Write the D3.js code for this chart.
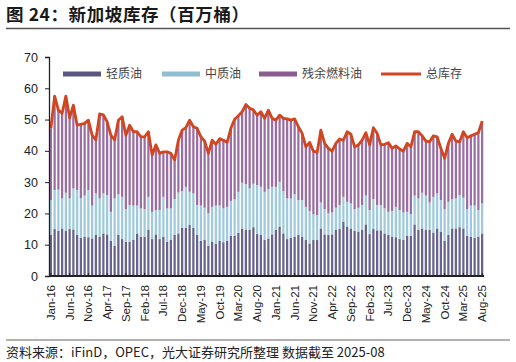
<!DOCTYPE html>
<html>
<head>
<meta charset="utf-8">
<script src="https://cdn.jsdelivr.net/npm/d3@7"></script>
<style>
body { margin: 0; background: #fff; }
svg { display: block; font-family: "Liberation Sans", Arial, sans-serif; }
.cn { font-family: "Noto Sans CJK SC", sans-serif; }
</style>
</head>
<body>
<div class="container"></div>
<script>
// Singapore inventories, million barrels, Jan-16 .. Aug-25
var light = [13.1,15.0,14.5,15.2,14.5,15.0,14.9,13.1,12.2,12.6,12.4,12.0,
  13.1,12.6,13.6,13.3,11.2,9.6,13.1,11.8,11.0,11.0,11.5,13.6,
  12.6,12.6,14.7,11.8,13.3,11.8,12.6,11.0,11.5,13.1,13.6,15.4,
  15.4,16.3,15.4,13.1,11.2,11.5,9.7,11.0,10.4,11.2,10.8,11.2,
  12.9,12.9,13.8,15.2,14.7,14.7,15.6,13.4,13.1,11.5,12.0,13.3,
  14.7,15.8,13.6,11.8,12.2,12.6,13.1,12.6,11.5,10.4,11.5,11.5,
  15.2,13.3,13.1,13.3,14.7,15.0,17.4,15.8,15.2,14.5,14.2,14.7,
  16.5,13.4,15.0,14.6,14.6,13.6,13.1,12.6,12.4,11.8,11.5,12.8,
  12.8,16.5,14.7,15.2,14.7,14.7,13.9,15.2,14.2,11.2,13.1,15.2,
  15.2,15.6,15.2,12.8,12.6,12.2,12.6,13.6];
var middle = [11.2,12.5,13.1,9.6,12.1,9.8,13.1,14.4,12.6,13.1,15.1,10.5,
  13.3,12.2,12.8,12.6,9.3,15.2,13.0,13.5,10.4,11.7,11.0,8.9,
  9.0,8.8,10.6,8.7,7.8,9.3,12.7,10.6,10.1,11.5,13.1,11.7,
  13.1,10.6,11.0,9.6,11.3,10.3,10.3,11.1,12.1,11.3,10.8,10.9,
  11.1,11.6,13.1,14.6,14.7,13.3,13.9,15.7,15.4,15.4,15.8,15.2,
  13.8,14.3,13.5,13.0,12.6,13.5,11.2,11.7,10.6,10.4,8.2,8.0,
  8.3,8.1,6.9,7.0,7.1,7.7,7.9,7.9,8.0,6.9,7.6,8.0,
  9.2,7.7,9.6,8.1,8.1,8.0,7.4,8.2,9.7,9.3,8.8,7.7,
  7.0,9.2,10.1,11.4,11.0,8.8,11.4,11.2,10.1,10.2,10.6,9.4,
  9.6,10.3,9.8,8.6,9.9,10.3,8.5,9.6];
var residue = [22.9,30.0,25.4,27.2,30.9,25.7,26.6,20.7,23.7,23.1,22.3,22.5,
  17.1,27.0,25.1,23.4,24.5,18.7,23.7,25.6,23.6,25.5,23.6,23.6,
  22.9,23.1,20.8,18.2,20.8,18.1,14.4,18.1,17.6,12.5,16.7,19.5,
  18.9,22.9,21.3,24.5,22.0,21.3,19.2,21.3,19.6,21.4,21.8,20.6,
  23.2,25.6,24.3,22.7,25.4,25.6,23.6,22.3,24.0,23.5,25.2,21.9,
  21.3,21.3,23.3,25.4,25.0,24.1,23.4,21.3,19.2,21.9,20.2,20.0,
  23.1,21.0,20.8,19.6,20.6,21.1,18.1,22.4,22.1,19.9,20.1,20.7,
  20.1,20.8,22.8,22.9,19.2,20.5,22.1,20.0,19.5,19.5,19.6,21.9,
  21.5,20.4,21.3,18.2,17.4,19.4,19.5,18.1,16.5,16.2,18.7,20.7,
  18.3,17.0,21.1,22.8,22.3,22.8,24.7,26.3];
var months = ['Jan','Feb','Mar','Apr','May','Jun','Jul','Aug','Sep','Oct','Nov','Dec'];
var yTicks = [0,10,20,30,40,50,60,70];
var seriesNames = ['轻质油','中质油','残余燃料油','总库存'];
var colors = ['#5b5680','#8fbdd1','#8c5b92','#d1451f'];
var barColors = ['#67638c','#9fcadb','#9a6ea2'];

var dates = light.map(function(d, i) {
  return months[i % 12] + '-' + (16 + Math.floor(i / 12));
});
var rows = dates.map(function(d, i) {
  return {date: d, light: light[i], middle: middle[i], residue: residue[i]};
});
var total = rows.map(function(r) { return r.light + r.middle + r.residue; });

var W = 516, H = 362;
var m = {left: 49, right: 32, top: 57, bottom: 86};

var svg = d3.select('.container').append('svg')
  .attr('width', W)
  .attr('height', H);

// title
svg.append('text')
  .attr('class', 'cn')
  .attr('x', 6)
  .attr('y', 21)
  .style('font-size', '17.5px')
  .style('letter-spacing', '0.6px')
  .style('font-weight', 'bold')
  .style('fill', '#1a1a1a')
  .text('图 24：新加坡库存（百万桶）');
svg.append('line')
  .attr('x1', 6).attr('x2', 510)
  .attr('y1', 28.5).attr('y2', 28.5)
  .style('stroke', '#555').style('stroke-width', 1.5);

var x = d3.scaleBand()
  .domain(dates)
  .range([m.left, W - m.right])
  .paddingInner(0.4)
  .paddingOuter(0.2);

var y = d3.scaleLinear()
  .domain([0, 70])
  .range([H - m.bottom, m.top]);

var stack = d3.stack().keys(['light', 'middle', 'residue']);
var layers = stack(rows);

svg.append('g').selectAll('g')
  .data(layers)
  .enter()
  .append('g')
  .style('fill', function(d, i) { return barColors[i]; })
  .selectAll('rect')
  .data(function(d) { return d; })
  .enter()
  .append('rect')
  .attr('x', function(d) { return x(d.data.date); })
  .attr('width', x.bandwidth())
  .attr('y', function(d) { return y(d[1]); })
  .attr('height', function(d) { return y(d[0]) - y(d[1]); });

var line = d3.line()
  .x(function(d, i) { return x(dates[i]) + x.bandwidth() / 2; })
  .y(function(d) { return y(d); });

svg.append('path')
  .datum(total)
  .attr('d', line)
  .style('fill', 'none')
  .style('stroke', colors[3])
  .style('stroke-width', 2.8)
  .style('stroke-linejoin', 'round');

// y axis
var yAxis = d3.axisLeft(y).tickValues(yTicks).tickSize(4).tickPadding(7);
var yG = svg.append('g')
  .attr('transform', 'translate(' + m.left + ',0)')
  .call(yAxis);
yG.select('.domain').style('stroke', '#222').style('stroke-width', 1.3);
yG.selectAll('.tick line').style('stroke', '#222');
yG.selectAll('text').style('font-size', '12.5px').style('fill', '#222');

// x axis
var xAxis = d3.axisBottom(x)
  .tickValues(dates.filter(function(d, i) { return i % 5 === 0; }))
  .tickSize(-3)
  .tickSizeOuter(0)
  .tickPadding(6);
var xG = svg.append('g')
  .attr('transform', 'translate(0,' + (H - m.bottom) + ')')
  .call(xAxis);
xG.select('.domain')
  .attr('d', 'M' + m.left + ',0H' + (W - m.right))
  .style('stroke', '#222').style('stroke-width', 2.2);
xG.selectAll('.tick line').style('stroke', '#222');
xG.selectAll('text')
  .style('font-size', '11.5px')
  .style('fill', '#222')
  .style('text-anchor', 'end')
  .attr('transform', 'rotate(-90)')
  .attr('x', -9)
  .attr('y', 0)
  .attr('dy', '0.35em');

// legend
var legendX = [63, 162, 259, 381];
var leg = svg.append('g');
seriesNames.forEach(function(name, i) {
  var g = leg.append('g').attr('transform', 'translate(' + legendX[i] + ',74)');
  if (i < 3) {
    g.append('rect').attr('x', 0).attr('y', -2.5).attr('width', 38).attr('height', 5)
      .style('fill', colors[i]);
  } else {
    g.append('line').attr('x1', 0).attr('x2', 40).attr('y1', 0).attr('y2', 0)
      .style('stroke', colors[3]).style('stroke-width', 2.8);
  }
  g.append('text')
    .attr('class', 'cn')
    .attr('x', i < 3 ? 43 : 45)
    .attr('y', 0)
    .attr('dy', '0.35em')
    .style('font-size', '12px')
    .style('fill', '#444')
    .text(name);
});

// footer
svg.append('line')
  .attr('x1', 6).attr('x2', 510)
  .attr('y1', 340).attr('y2', 340)
  .style('stroke', '#666').style('stroke-width', 1.2);
svg.append('text')
  .attr('class', 'cn')
  .attr('x', 6)
  .attr('y', 357)
  .style('font-size', '13px')
  .style('fill', '#222')
  .text('资料来源：iFinD，OPEC，光大证券研究所整理 数据截至 2025-08');
</script>
</body>
</html>
